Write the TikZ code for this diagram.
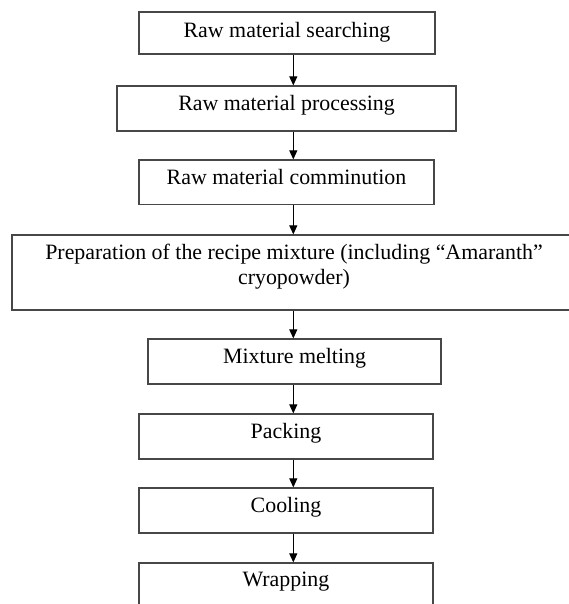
\documentclass[tikz,border=0pt]{standalone}
\usepackage{fontspec}
\setmainfont{Liberation Serif}
\usetikzlibrary{arrows.meta}
\begin{document}
\begin{tikzpicture}[x=1pt,y=1pt,
  stepbox/.style={draw=black!72,line width=1.2pt,inner sep=0pt,fill=none},
  lbl/.style={anchor=base,inner sep=0pt,font=\fontsize{21.9}{25.7}\selectfont},
  arr/.style={draw=black,line width=1pt,-{Triangle[length=9pt,width=8pt]}}]
\useasboundingbox (0,0) rectangle (569,604);
\begin{scope}
\clip (0,0) rectangle (569,604);
% boxes: centre and size
\node[stepbox,minimum width=296pt,minimum height=42pt] (b1) at (287,571) {};
\node[stepbox,minimum width=339pt,minimum height=45pt] (b2) at (286.5,495.5) {};
\node[stepbox,minimum width=295pt,minimum height=44.5pt] (b3) at (286.5,421.75) {};
\node[stepbox,minimum width=563pt,minimum height=75pt] (b4) at (293.5,331.5) {};
\node[stepbox,minimum width=293pt,minimum height=45pt] (b5) at (294.5,242.5) {};
\node[stepbox,minimum width=294pt,minimum height=45pt] (b6) at (286,167.5) {};
\node[stepbox,minimum width=294pt,minimum height=45pt] (b7) at (286,93.5) {};
\node[stepbox,minimum width=294pt,minimum height=47pt] (b8) at (286,17.5) {};
\end{scope}
% texts
\node[lbl] (t1) at (287,566.7) {Raw material searching};
\node[lbl] (t2) at (286.5,493.5) {Raw material processing};
\node[lbl] (t3) at (286.5,419.5) {Raw material comminution};
\node[lbl] (t4a) at (294,344.7) {Preparation of the recipe mixture (including “Amaranth”};
\node[lbl] (t4b) at (294,319) {cryopowder)};
\node[lbl] (t5) at (294.5,240.7) {Mixture melting};
\node[lbl] (t6) at (286,165.7) {Packing};
\node[lbl] (t7) at (286,91.3) {Cooling};
\node[lbl] (t8) at (286,17) {Wrapping};
% arrows
\coordinate (ax) at (293.3,0);
\draw[arr] (b1.south -| ax) -- (b2.north -| ax);
\draw[arr] (b2.south -| ax) -- (b3.north -| ax);
\draw[arr] (b3.south -| ax) -- (b4.north -| ax);
\draw[arr] (b4.south -| ax) -- (b5.north -| ax);
\draw[arr] (b5.south -| ax) -- (b6.north -| ax);
\draw[arr] (b6.south -| ax) -- (b7.north -| ax);
\draw[arr] (b7.south -| ax) -- (b8.north -| ax);
\end{tikzpicture}
\end{document}
